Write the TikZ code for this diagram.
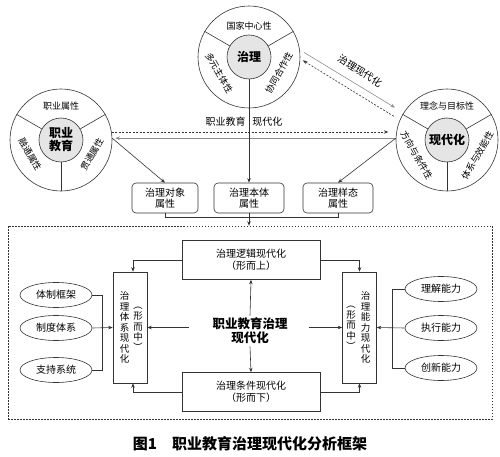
\documentclass[tikz,border=0pt]{standalone}
\usepackage{fontspec}
\usepackage{graphicx}
\setmainfont{Noto Sans CJK SC}
\usetikzlibrary{arrows.meta,calc,shapes.geometric}
\begin{document}
\begin{tikzpicture}[x=1pt,y=1pt, line width=0.6pt, >={Stealth[length=4.5pt,width=3.5pt]},
 ln/.style={draw=black!80},
 gl/.style={draw=black!45},
 ring/.style={circle, draw=black!80, minimum size=102pt, inner sep=0pt},
 core/.style={circle, draw=black!80, fill=black!10, minimum size=44pt, inner sep=0pt, font=\fontsize{12}{13}\selectfont\bfseries, align=center},
 rtext/.style={font=\fontsize{9}{10}\selectfont, inner sep=0pt},
 lbl/.style={font=\fontsize{10}{11}\selectfont, inner sep=0pt},
 attr/.style={draw=black!80, rounded corners=4pt, minimum height=30pt, align=center, font=\fontsize{10}{11.5}\selectfont, inner sep=1pt},
 sqbox/.style={draw=black!80, align=center, font=\fontsize{10}{12.5}\selectfont, inner sep=0pt, minimum width=138pt, minimum height=39pt},
 tall/.style={draw=black!80, minimum width=34pt, minimum height=111pt, inner sep=0pt},
 oval/.style={ellipse, draw=black!80, minimum width=72pt, minimum height=25pt, inner sep=0pt, font=\fontsize{10}{11}\selectfont},
 vcol/.style={align=center, inner sep=0pt, font=\fontsize{9.5}{10.5}\selectfont},
 dsh/.style={dash pattern=on 2pt off 1.5pt},
]
\useasboundingbox (0,0) rectangle (500,-457);

% ---- top circle
\node[ring] (T) at (249,-57) {};
\node[core] (Tc) at (T.center) {治理};
\foreach \a in {30,150,270} \draw[ln] (Tc.\a) -- (T.\a);
\node[rtext] (T1) at ($(T.center)+(0,31)$) {国家中心性};
\node[rtext, rotate=-60] (T2) at ($(T.center)+(208:34pt)$) {多元主体性};
\node[rtext, rotate=60] (T3) at ($(T.center)+(332:34pt)$) {协同合作性};

% ---- left circle
\node[ring] (L) at (61,-140) {};
\node[core] (Lc) at (L.center) {职业\\教育};
\foreach \a in {30,150,270} \draw[ln] (Lc.\a) -- (L.\a);
\node[rtext] (L1) at ($(L.center)+(0,34)$) {职业属性};
\node[rtext, rotate=-60] (L2) at ($(L.center)+(205:34pt)$) {融通属性};
\node[rtext, rotate=60] (L3) at ($(L.center)+(335:34pt)$) {贯通属性};

% ---- right circle
\node[ring] (R) at (447,-140) {};
\node[core] (Rc) at (R.center) {现代化};
\foreach \a in {30,150,270} \draw[ln] (Rc.\a) -- (R.\a);
\node[rtext] (R1) at ($(R.center)+(0,34)$) {理念与目标性};
\node[rtext, rotate=-60] (R2) at ($(R.center)+(207:34pt)$) {方向与条件性};
\node[rtext, rotate=60] (R3) at ($(R.center)+(333:34pt)$) {体系与效能性};

% ---- circle connectors
\draw[ln, dsh, ->, shorten >=8pt] (L.9) -- (R.171);
\draw[gl, ->, shorten >=3pt] (R.178) -- (L.2);
\draw[gl, ->, shorten <=5pt, shorten >=10pt] (T.8) -- (R.148);
\draw[ln, dsh, ->, shorten <=7pt, shorten >=3pt] (R.157) -- (T.-2);
\node[lbl, rotate=-32] (tlab) at (360,-71) {治理现代化};
\node[lbl, anchor=east] (mlab1) at (246,-122) {职业教育};
\node[lbl, anchor=west] (mlab2) at (252,-122) {现代化};

% ---- attribute boxes
\node[attr, minimum width=66pt] (b1) at (165,-198) {治理对象\\属性};
\node[attr, minimum width=70pt] (b2) at (249,-198) {治理本体\\属性};
\node[attr, minimum width=70pt] (b3) at (338,-198) {治理样态\\属性};
\draw[ln, ->] (T.south) -- (b2.north);
\draw[ln, ->] (L.2) -- (b1.north);
\draw[ln, ->] (R.178) -- (b3.north);

% ---- big dashed frame
\node[draw=black!80, dash pattern=on 1.5pt off 1.5pt, minimum width=484pt, minimum height=193pt, inner sep=0pt] (big) at (250,-322.5) {};
\draw[ln] (b1.south) -- ++(0,-4) -| (b3.south);
\draw[ln, ->] (b2.south) -- (b2.south |- big.north);

% ---- inner boxes
\node[sqbox] (lg) at (251,-260) {治理逻辑现代化\\（形而上）};
\node[sqbox] (cd) at (251,-392) {治理条件现代化\\（形而下）};
\node[font=\fontsize{12.5}{14}\selectfont\bfseries, align=center, inner sep=2pt] (ct) at (250,-331) {职业教育治理\\现代化};

\node[tall] (lt) at (130,-327.5) {};
\node[vcol] (lt1) at (124.5,-327.5) {治\\理\\体\\系\\现\\代\\化};
\node[vcol] (lt2) at (138,-326.5) {\rotatebox[origin=c]{-90}{（}\\形\\而\\中\\\rotatebox[origin=c]{-90}{）}};

\node[tall] (rt) at (359.5,-327.5) {};
\node[vcol] (rt1) at (365.5,-327.5) {治\\理\\能\\力\\现\\代\\化};
\node[vcol] (rt2) at (351,-325) {\rotatebox[origin=c]{-90}{（}\\形\\而\\中\\\rotatebox[origin=c]{-90}{）}};

\draw[ln, ->] (ct.north) -- (lg.south);
\draw[ln, ->] (ct.south) -- (cd.north);
\draw[ln, ->, shorten <=21pt] (ct.west |- lt.east) -- (lt.east);
\draw[ln, ->, shorten <=19pt] (ct.east |- rt.west) -- (rt.west);

\draw[ln, ->] (lg.west) -| ([xshift=3pt]lt.north);
\draw[ln, ->] (cd.west) -| ([xshift=3pt]lt.south);
\draw[ln, ->] (lg.east) -| (rt.north);
\draw[ln, ->] (cd.east) -| (rt.south);

% ---- ellipses
\node[oval] (e1) at (56,-295) {体制框架};
\node[oval] (e2) at (56,-328) {制度体系};
\node[oval] (e3) at (56,-370) {支持系统};
\coordinate (lbk) at (102,-328);
\draw[ln] (e1.east) -| (lbk);
\draw[ln] (e3.east) -| (lbk);
\draw[ln, ->] (e2.east) -- (lt.west);

\node[oval] (f1) at (441,-289) {理解能力};
\node[oval] (f2) at (441,-328) {执行能力};
\node[oval] (f3) at (441,-368) {创新能力};
\coordinate (rbk) at (392,-328);
\draw[ln] (f1.west) -| (rbk);
\draw[ln] (f3.west) -| (rbk);
\draw[ln, ->] (f2.west) -- (rt.east);

% ---- caption
\node[font=\fontsize{15}{16}\selectfont\bfseries, inner sep=0pt] (cap) at (250,-444) {图1\quad 职业教育治理现代化分析框架};
\end{tikzpicture}
\end{document}
